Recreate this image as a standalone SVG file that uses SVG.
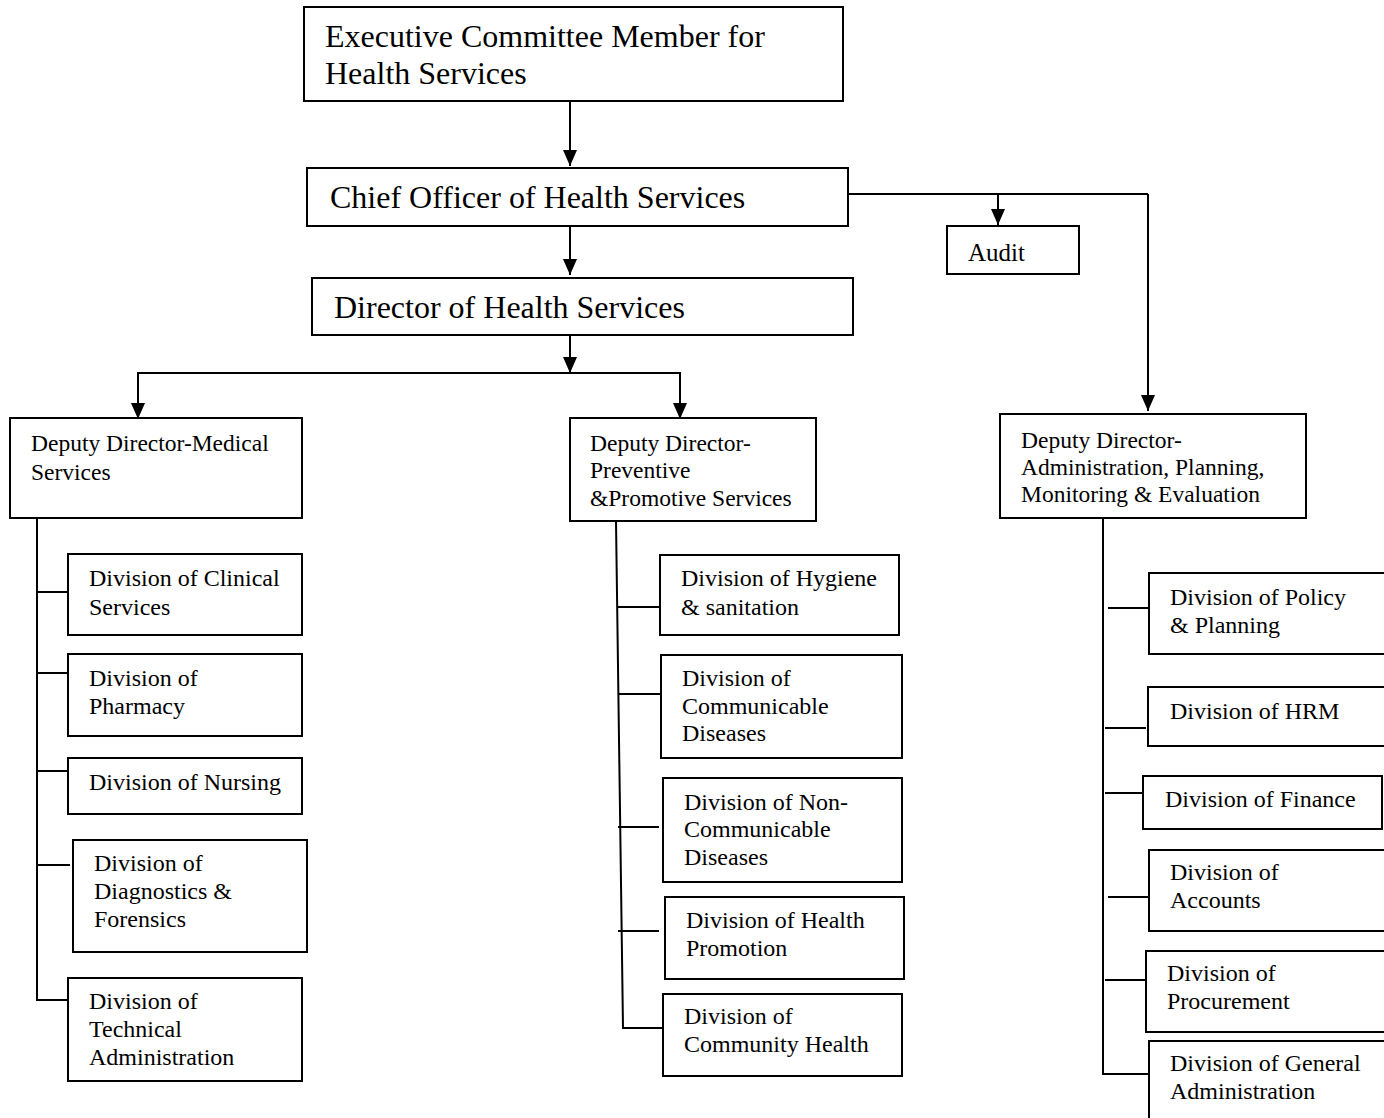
<svg xmlns="http://www.w3.org/2000/svg" width="1384" height="1118" viewBox="0 0 1384 1118">
<style>
.box{fill:#fff;stroke:#000;stroke-width:2}
.ln{fill:none;stroke:#000;stroke-width:2}
text{font-family:"Liberation Serif","Times New Roman",serif;fill:#000}
.big{font-size:32px}
.md{font-size:24px}
.sm{font-size:23.5px}
.au{font-size:25px}
</style>
<defs>
<marker id="arr" markerUnits="userSpaceOnUse" markerWidth="16" markerHeight="14" refX="16" refY="7" orient="auto">
<path d="M0,0 L16,7 L0,14 z" fill="#000"/>
</marker>
</defs>
<rect width="1384" height="1118" fill="#fff"/>
<g id="connectors">
<line class="ln" x1="570" y1="101" x2="570" y2="166" marker-end="url(#arr)"/>
<line class="ln" x1="570" y1="226" x2="570" y2="275" marker-end="url(#arr)"/>
<line class="ln" x1="570" y1="330" x2="570" y2="373" marker-end="url(#arr)"/>
<polyline class="ln" points="138,418 138,373 680,373 680,418"/>
<line class="ln" x1="138" y1="380" x2="138" y2="419" marker-end="url(#arr)"/>
<line class="ln" x1="680" y1="380" x2="680" y2="419" marker-end="url(#arr)"/>
<polyline class="ln" points="848,194 1148,194"/>
<line class="ln" x1="998" y1="194" x2="998" y2="225" marker-end="url(#arr)"/>
<line class="ln" x1="1148" y1="194" x2="1148" y2="411" marker-end="url(#arr)"/>
<polyline class="ln" points="37,518 37,1000 68,1000"/>
<line class="ln" x1="37" y1="592" x2="68" y2="592"/>
<line class="ln" x1="37" y1="673" x2="68" y2="673"/>
<line class="ln" x1="37" y1="771" x2="68" y2="771"/>
<line class="ln" x1="37" y1="865" x2="70" y2="865"/>
<polyline class="ln" points="616,521 623,1028 663,1028"/>
<line class="ln" x1="617" y1="607" x2="660" y2="607"/>
<line class="ln" x1="619" y1="694" x2="661" y2="694"/>
<line class="ln" x1="618" y1="827" x2="659" y2="827"/>
<line class="ln" x1="618" y1="931" x2="659" y2="931"/>
<polyline class="ln" points="1103,519 1103,1074 1149,1074"/>
<line class="ln" x1="1108" y1="608" x2="1149" y2="608"/>
<line class="ln" x1="1105" y1="728" x2="1146" y2="728"/>
<line class="ln" x1="1105" y1="793" x2="1143" y2="793"/>
<line class="ln" x1="1108" y1="897" x2="1149" y2="897"/>
<line class="ln" x1="1105" y1="980" x2="1146" y2="980"/>
</g>
<g id="exec"><rect class="box" x="304" y="7" width="539" height="94"/>
<text class="big" x="325" y="47">Executive Committee Member for</text>
<text class="big" x="325" y="84">Health Services</text></g>
<g id="chief"><rect class="box" x="307" y="168" width="541" height="58"/>
<text class="big" x="330" y="208">Chief Officer of Health Services</text></g>
<g id="director"><rect class="box" x="312" y="278" width="541" height="57"/>
<text class="big" x="334" y="318">Director of Health Services</text></g>
<g id="audit"><rect class="box" x="947" y="226" width="132" height="48"/>
<text class="au" x="968" y="261">Audit</text></g>
<g id="dd-medical"><rect class="box" x="10" y="418" width="292" height="100"/>
<text class="sm" x="31" y="451">Deputy Director-Medical</text>
<text class="sm" x="31" y="480">Services</text></g>
<g id="dd-preventive"><rect class="box" x="570" y="418" width="246" height="103"/>
<text class="sm" x="590" y="451">Deputy Director-</text>
<text class="sm" x="590" y="478">Preventive</text>
<text class="sm" x="590" y="506">&amp;Promotive Services</text></g>
<g id="dd-admin"><rect class="box" x="1000" y="414" width="306" height="104"/>
<text class="sm" x="1021" y="448">Deputy Director-</text>
<text class="sm" x="1021" y="475">Administration, Planning,</text>
<text class="sm" x="1021" y="502">Monitoring &amp; Evaluation</text></g>
<g id="div-clinical"><rect class="box" x="68" y="554" width="234" height="81"/>
<text class="md" x="89" y="586">Division of Clinical</text>
<text class="md" x="89" y="615">Services</text></g>
<g id="div-pharmacy"><rect class="box" x="68" y="654" width="234" height="82"/>
<text class="md" x="89" y="686">Division of</text>
<text class="md" x="89" y="714">Pharmacy</text></g>
<g id="div-nursing"><rect class="box" x="68" y="758" width="234" height="56"/>
<text class="md" x="89" y="790">Division of Nursing</text></g>
<g id="div-diagnostics"><rect class="box" x="73" y="840" width="234" height="112"/>
<text class="md" x="94" y="871">Division of</text>
<text class="md" x="94" y="899">Diagnostics &amp;</text>
<text class="md" x="94" y="927">Forensics</text></g>
<g id="div-technical"><rect class="box" x="68" y="978" width="234" height="103"/>
<text class="md" x="89" y="1009">Division of</text>
<text class="md" x="89" y="1037">Technical</text>
<text class="md" x="89" y="1065">Administration</text></g>
<g id="div-hygiene"><rect class="box" x="660" y="555" width="239" height="80"/>
<text class="md" x="681" y="586">Division of Hygiene</text>
<text class="md" x="681" y="615">&amp; sanitation</text></g>
<g id="div-communicable"><rect class="box" x="661" y="655" width="241" height="103"/>
<text class="md" x="682" y="686">Division of</text>
<text class="md" x="682" y="714">Communicable</text>
<text class="md" x="682" y="741">Diseases</text></g>
<g id="div-ncd"><rect class="box" x="663" y="778" width="239" height="104"/>
<text class="md" x="684" y="810">Division of Non-</text>
<text class="md" x="684" y="837">Communicable</text>
<text class="md" x="684" y="865">Diseases</text></g>
<g id="div-promotion"><rect class="box" x="665" y="897" width="239" height="82"/>
<text class="md" x="686" y="928">Division of Health</text>
<text class="md" x="686" y="956">Promotion</text></g>
<g id="div-community"><rect class="box" x="663" y="994" width="239" height="82"/>
<text class="md" x="684" y="1024">Division of</text>
<text class="md" x="684" y="1052">Community Health</text></g>
<g id="div-policy"><rect class="box" x="1149" y="573" width="245" height="81"/>
<text class="md" x="1170" y="605">Division of Policy</text>
<text class="md" x="1170" y="633">&amp; Planning</text></g>
<g id="div-hrm"><rect class="box" x="1148" y="687" width="246" height="59"/>
<text class="md" x="1170" y="719">Division of HRM</text></g>
<g id="div-finance"><rect class="box" x="1143" y="776" width="239" height="53"/>
<text class="md" x="1165" y="807">Division of Finance</text></g>
<g id="div-accounts"><rect class="box" x="1149" y="850" width="245" height="81"/>
<text class="md" x="1170" y="880">Division of</text>
<text class="md" x="1170" y="908">Accounts</text></g>
<g id="div-procurement"><rect class="box" x="1146" y="951" width="248" height="81"/>
<text class="md" x="1167" y="981">Division of</text>
<text class="md" x="1167" y="1009">Procurement</text></g>
<g id="div-general"><rect class="box" x="1149" y="1041" width="245" height="90"/>
<text class="md" x="1170" y="1071">Division of General</text>
<text class="md" x="1170" y="1099">Administration</text></g>
</svg>
